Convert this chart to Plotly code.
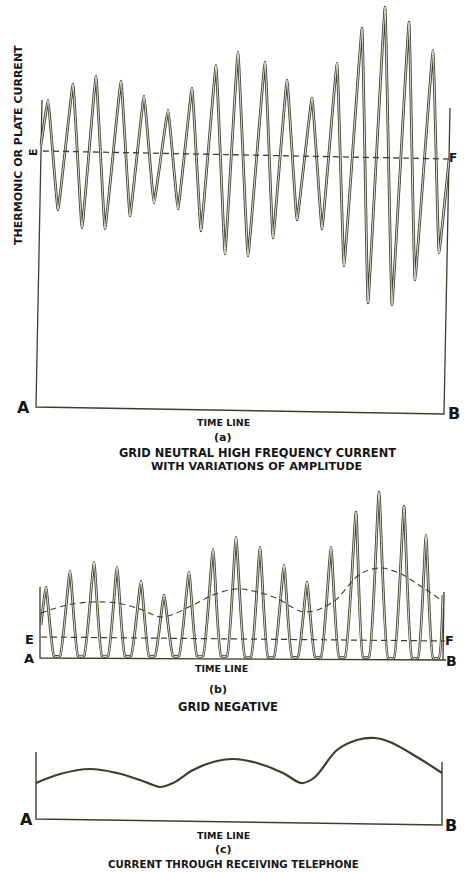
import plotly.graph_objects as go

INK = "#3e3e2e"
GAP = "#eeeee4"
TEXT = "#161616"
FONT = "DejaVu Sans"

# ---- (a) grid neutral: plate current (time, current)
a_time = [5, 12, 22, 37, 46, 60, 69, 85, 94, 108, 118, 132, 142, 156, 165, 180, 189,
          202, 212, 229, 237, 251, 261, 276, 286, 301, 308, 326, 332, 349, 356, 373, 379,
          397, 403, 413]
a_current = [262, 307, 197, 323, 179, 331, 178, 326, 191, 311, 204, 297, 198, 319, 176, 342, 153,
             355, 151, 345, 169, 327, 187, 309, 178, 344, 141, 379, 104, 400, 102, 385, 127,
             357, 154, 247]
a_ef_time = [7, 413]
a_ef_current = [256, 248]
a_frame_time = [6, 0, 408, 414]
a_frame_current = [307, 0, -7, 299]

# ---- (b) grid negative: rectified pulses, clipped at the time line
b_peak_time = [10, 34, 58, 81, 105, 128, 153, 177, 200, 224, 248, 271, 295, 320, 343, 368, 390]
b_peak_current = [71, 87, 96, 91, 77, 63, 86, 109, 121, 111, 93, 76, 111, 146, 166, 152, 123]
b_trough_time = [21, 45, 69, 92, 116, 140, 164, 188, 212, 235, 259, 282, 306, 330, 355, 379, 400]
b_trough_current = [2, 2, 2, 2, 2, 2, 2, 2, 1, 1, 1, 1, 1, 1, 0, 0, 0]
b_start = (5, 33)
b_end = (407, 63)
b_env_time = [5, 31, 57, 81, 104, 126, 157, 177, 199, 217, 240, 269, 297, 323, 343, 363, 383, 405]
b_env_current = [45, 53, 56, 55, 49, 41, 53, 63, 69, 67, 60, 46, 56, 83, 90, 85, 73, 58]
b_ef_time = [5, 409]
b_ef_current = [21, 17]
b_frame_time = [4, 4, 410, 407, 408]
b_frame_current = [71, 0, -2, -2, 66]

# ---- (c) current through receiving telephone
c_time = [0, 24, 54, 81, 104, 117, 124, 137, 157, 177, 197, 221, 247, 262, 267, 279, 301,
          321, 339, 354, 381, 406]
c_current = [36, 45, 50, 46, 39, 34, 32, 36, 49, 57, 60, 56, 46, 37, 36, 42, 69,
             79, 81, 77, 62, 46]
c_frame_time = [0, 0, 406, 406]
c_frame_current = [67, 0, -6, 57]

fig = go.Figure()


def line(x, y, ax, width=1.2, dash=None, shape="linear", smoothing=1.0, color=INK):
    fig.add_trace(go.Scatter(
        x=x, y=y, xaxis="x" + ax, yaxis="y" + ax, mode="lines",
        line=dict(color=color, width=width, dash=dash, shape=shape, smoothing=smoothing),
        hoverinfo="skip", showlegend=False, cliponaxis=False,
    ))


def hollow(x, y, ax, smoothing):
    # pen stroke of the scan: dark rim with a pale core
    line(x, y, ax, width=2.7, shape="spline", smoothing=smoothing)
    line(x, y, ax, width=0.9, shape="spline", smoothing=smoothing, color=GAP)


# panel (a)
line(a_frame_time, a_frame_current, "", width=1.3)
hollow(a_time, a_current, "", 0.25)
line(a_ef_time, a_ef_current, "", width=1.3, dash="6px,4px")

# panel (b): peaks joined through flat bottoms at the trough
bx, by = [b_start[0]], [b_start[1]]
for i, (pt, pv) in enumerate(zip(b_peak_time, b_peak_current)):
    bx.append(pt)
    by.append(pv)
    tt, tv = b_trough_time[i], b_trough_current[i]
    bx += [tt - 3, tt + 3]
    by += [tv, tv]
bx.append(b_end[0])
by.append(b_end[1])
line(b_frame_time, b_frame_current, "2", width=1.3)
hollow(bx, by, "2", 0.4)
line(b_ef_time, b_ef_current, "2", width=1.2, dash="6px,4px")
line(b_env_time, b_env_current, "2", width=1.1, dash="6px,4px", shape="spline")

# panel (c)
line(c_frame_time, c_frame_current, "3", width=1.4)
line(c_time, c_current, "3", width=2.2, shape="spline", smoothing=1.0)

labels = [
    # text, x, y, axis, size, angle
    ("THERMONIC OR PLATE CURRENT", -18, 262, "", 11, -90),
    ("E", -3, 255, "", 11, -90),
    ("F", 417, 249, "", 12, 0),
    ("A", -13, 0, "", 16, 0),
    ("B", 418, -6, "", 16, 0),
    ("TIME LINE", 187, -15, "", 9.5, 0),
    ("(a)", 186, -30, "", 11, 0),
    ("GRID NEUTRAL HIGH FREQUENCY CURRENT", 221, -46, "", 11.4, 0),
    ("WITH VARIATIONS OF AMPLITUDE", 220, -59, "", 11.2, 0),
    ("E", -7, 19, "2", 13, 0),
    ("A", -7, 0, "2", 13, 0),
    ("F", 413, 18, "2", 13, 0),
    ("B", 415, -3, "2", 14, 0),
    ("TIME LINE", 185, -10, "2", 9.5, 0),
    ("(b)", 182, -31, "2", 11, 0),
    ("GRID NEGATIVE", 192, -49, "2", 11.5, 0),
    ("A", -10, 0, "3", 16, 0),
    ("B", 415, -6, "3", 16, 0),
    ("TIME LINE", 187, -16, "3", 9.5, 0),
    ("(c)", 187, -30, "3", 11, 0),
    ("CURRENT THROUGH RECEIVING TELEPHONE", 197, -45, "3", 10.2, 0),
]
for text, x, y, ax, size, angle in labels:
    fig.add_annotation(
        text=text, x=x, y=y, xref="x" + ax, yref="y" + ax, showarrow=False,
        textangle=angle, font=dict(family=FONT, size=size, color=TEXT, weight="bold"),
    )

# 1 unit = 1 px; panels split the page at 480 px and 720 px from the top
H = 872
hidden = dict(visible=False, fixedrange=True)
fig.update_layout(
    width=466, height=H,
    paper_bgcolor="#ffffff", plot_bgcolor="#ffffff",
    margin=dict(l=0, r=0, t=0, b=0),
    xaxis=dict(range=[-36, 430], domain=[0, 1], anchor="y", **hidden),
    xaxis2=dict(range=[-36, 430], domain=[0, 1], anchor="y2", **hidden),
    xaxis3=dict(range=[-36, 430], domain=[0, 1], anchor="y3", **hidden),
    yaxis=dict(range=[-73, 407], domain=[(H - 480) / H, 1], anchor="x", **hidden),
    yaxis2=dict(range=[-62, 178], domain=[(H - 720) / H, (H - 480) / H], anchor="x2", **hidden),
    yaxis3=dict(range=[-53, 99], domain=[0, (H - 720) / H], anchor="x3", **hidden),
)

fig.write_html(
    "out.html",
    config={"displayModeBar": False},
    post_script="document.body.style.margin='0';document.body.style.overflow='hidden';",
)
